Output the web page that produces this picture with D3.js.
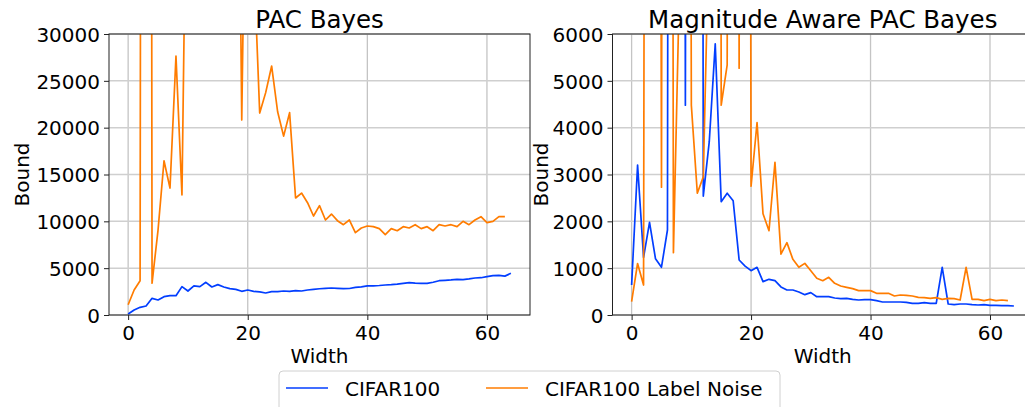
<!DOCTYPE html>
<html>
<head>
<meta charset="utf-8">
<script src="https://d3js.org/d3.v7.min.js"></script>
<style>
    body { margin: 0; background: white; }
    svg { display: block; font-family: "DejaVu Sans", sans-serif; }
</style>
</head>
<body>
<svg width="1025" height="407"></svg>
<script>

// x values (network width)
var widths = d3.range(0, 65);

// PAC Bayes bound, CIFAR100
var pacClean = [100, 530, 820, 960, 1780, 1600, 1960, 2060, 2060, 3030, 2560, 3100, 3030, 3490, 2990, 3240,
    2990, 2810, 2740, 2530, 2670, 2530, 2460, 2350, 2490, 2490, 2560, 2530, 2600, 2560, 2670, 2740,
    2800, 2850, 2880, 2850, 2820, 2830, 2950, 3000, 3100, 3120, 3150, 3200, 3240, 3300, 3380, 3450,
    3400, 3380, 3380, 3500, 3660, 3700, 3740, 3800, 3780, 3850, 3950, 3980, 4090, 4200, 4240, 4150, 4450];

// PAC Bayes bound, CIFAR100 label noise (some values run far above the axis)
var pacNoise = [1100, 2670, 3660, 500000, 3400, 9070, 16470, 13550, 27650, 12810, 62000, 90000, 120000, 150000,
    110000, 130000, 100000, 90000, 82000, 20820, 67000, 38000, 21560, 23740, 26580, 21700, 19100, 21600,
    12490, 13020, 11990, 10570, 11670, 10140, 10780, 10070, 9640, 10140, 8790, 9290, 9500, 9430, 9220,
    8580, 9220, 9000, 9430, 9290, 9640, 9220, 9430, 9000, 9640, 9500, 9640, 9430, 10000, 9640, 10140,
    10500, 9860, 10000, 10500, 10500];

// magnitude aware PAC Bayes bound, CIFAR100
var magClean = [640, 3200, 1230, 1980, 1200, 1020, 1815, 90000, 80000, 4480, 70000, 90000, 2540, 3700, 5790,
    2420, 2600, 2440, 1175, 1045, 946, 1018, 712, 762, 733, 600, 534, 534, 491, 434, 477, 391, 391, 391,
    363, 349, 356, 334, 320, 327, 327, 306, 278, 278, 278, 278, 270, 249, 249, 263, 249, 249, 1018, 235,
    221, 235, 235, 221, 214, 221, 207, 207, 200, 200, 192];

// magnitude aware PAC Bayes bound, CIFAR100 label noise
var magNoise = [285, 1100, 640, 70000, 60000, 2730, 80000, 1330, 7000, 60000, 4480, 2600, 2950, 8500, 90000,
    4480, 5340, 80000, 5270, 70000, 2750, 4110, 2160, 1800, 3260, 1300, 1545, 1188, 1018, 1103, 946, 783,
    733, 804, 676, 619, 591, 563, 520, 520, 520, 463, 463, 463, 406, 427, 420, 406, 377, 370, 356, 370,
    334, 356, 349, 320, 1018, 334, 334, 306, 334, 306, 320, 306];

var xTicks = [0, 20, 40, 60];
var pacTicks = d3.range(0, 30001, 5000);
var magTicks = d3.range(0, 6001, 1000);

var seriesNames = ["CIFAR100", "CIFAR100 Label Noise"];
var seriesColours = ["#023eff", "#ff7c00"];

var svg = d3.select("svg");

// draws one panel, left/right are pixel edges of the plot area
function drawPanel(id, left, right, yMax, yTicks, title, clean, noise, yLabelX) {
    var top = 34, bottom = 315;

    var x = d3.scaleLinear().domain([-3.2, 67.2]).range([left, right]);
    var y = d3.scaleLinear().domain([0, yMax]).range([bottom, top]);

    var g = svg.append("g");

    g.append("clipPath")
        .attr("id", "clip" + id)
        .append("rect")
        .attr("x", left).attr("y", top)
        .attr("width", right - left).attr("height", bottom - top);

    // grid
    g.append("g")
        .selectAll("line.vx")
        .data(xTicks)
        .enter().append("line")
        .attr("x1", d => x(d)).attr("x2", d => x(d))
        .attr("y1", top).attr("y2", bottom)
        .attr("stroke", "#c4c4c4")
        .attr("stroke-width", 1.3);

    g.append("g")
        .selectAll("line.hy")
        .data(yTicks)
        .enter().append("line")
        .attr("x1", left).attr("x2", right)
        .attr("y1", d => y(d)).attr("y2", d => y(d))
        .attr("stroke", "#cfcfcf")
        .attr("stroke-width", 1.5);

    // the two lines
    var line = d3.line()
        .x(function (d, i) { return x(widths[i]); })
        .y(function (d) { return y(d); });

    var plot = g.append("g").attr("clip-path", "url(#clip" + id + ")");

    plot.append("path")
        .attr("d", line(clean))
        .attr("fill", "none")
        .attr("stroke", seriesColours[0])
        .attr("stroke-width", 1.7)
        .attr("stroke-linejoin", "round");

    plot.append("path")
        .attr("d", line(noise))
        .attr("fill", "none")
        .attr("stroke", seriesColours[1])
        .attr("stroke-width", 1.7)
        .attr("stroke-linejoin", "round");

    // axes
    var xAxis = g.append("g")
        .attr("transform", "translate(0," + bottom + ")")
        .call(d3.axisBottom(x).tickValues(xTicks).tickSize(5).tickPadding(6).tickSizeOuter(0));

    var yAxis = g.append("g")
        .attr("transform", "translate(" + left + ",0)")
        .call(d3.axisLeft(y).tickValues(yTicks).tickSize(5).tickPadding(4).tickSizeOuter(0).tickFormat(d3.format("d")));

    [xAxis, yAxis].forEach(function (a) {
        a.select(".domain").remove();
        a.selectAll("line").attr("stroke", "#222").attr("stroke-width", 1);
        a.selectAll("text")
            .attr("fill", "black")
            .style("font-size", "20px")
            .style("font-family", "DejaVu Sans");
    });
    xAxis.selectAll("text").attr("dy", "0.72em");
    yAxis.selectAll("text").attr("dy", "0.36em");

    // frame
    g.append("rect")
        .attr("x", left).attr("y", top)
        .attr("width", right - left).attr("height", bottom - top)
        .attr("fill", "none")
        .attr("stroke", "#222")
        .attr("stroke-width", 1);

    // title and labels
    g.append("text")
        .attr("x", (left + right) / 2)
        .attr("y", 28)
        .attr("text-anchor", "middle")
        .style("font-size", "24.5px")
        .text(title);

    g.append("text")
        .attr("x", (left + right) / 2)
        .attr("y", 363)
        .attr("text-anchor", "middle")
        .style("font-size", "20px")
        .text("Width");

    g.append("text")
        .attr("transform", "translate(" + yLabelX + "," + ((top + bottom) / 2) + ") rotate(-90)")
        .attr("text-anchor", "middle")
        .style("font-size", "20px")
        .text("Bound");
}

drawPanel("a", 109, 530, 30000, pacTicks, "PAC Bayes", pacClean, pacNoise, 28.5);
drawPanel("b", 612.5, 1033, 6000, magTicks, "Magnitude Aware PAC Bayes", magClean, magNoise, 548);

// legend under both panels
var legend = svg.append("g").attr("class", "legend");

legend.append("rect")
    .attr("x", 279).attr("y", 371)
    .attr("width", 501).attr("height", 40)
    .attr("rx", 4)
    .attr("fill", "white")
    .attr("stroke", "#d0d0d0")
    .attr("stroke-width", 1);

var legendX = [286, 486];
var items = legend.selectAll("g.item")
    .data(seriesNames)
    .enter().append("g")
    .attr("class", "item")
    .attr("transform", function (d, i) { return "translate(" + legendX[i] + ",0)"; });

items.append("line")
    .attr("x1", 0).attr("x2", 42)
    .attr("y1", 388).attr("y2", 388)
    .attr("stroke", function (d, i) { return seriesColours[i]; })
    .attr("stroke-width", 1.7);

items.append("text")
    .attr("x", 59)
    .attr("y", 396)
    .style("font-size", "20px")
    .text(function (d) { return d; });

</script>
</body>
</html>
